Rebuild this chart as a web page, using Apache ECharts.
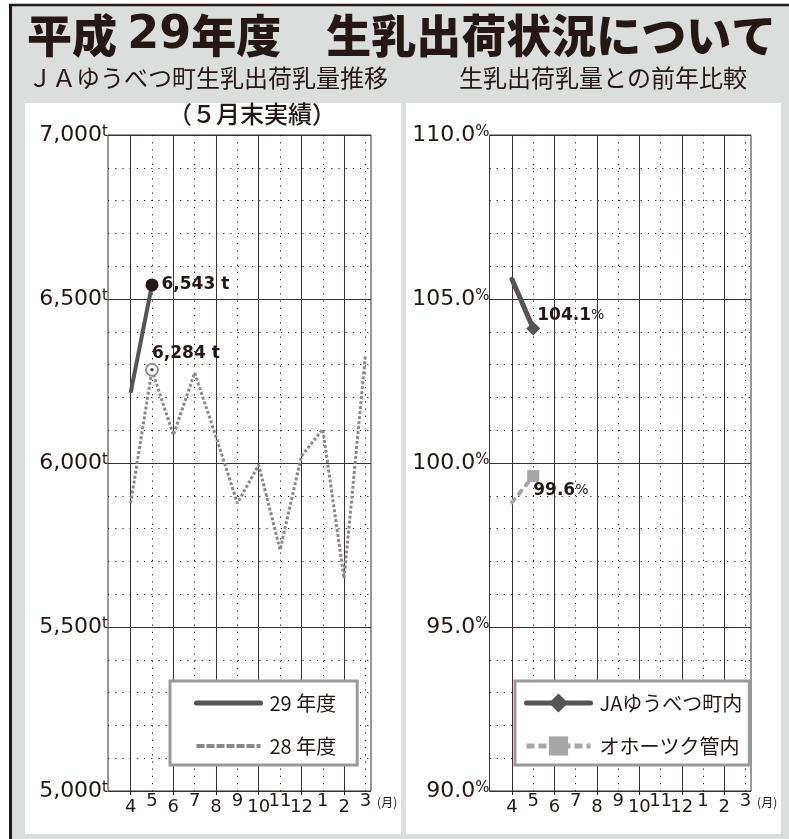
<!DOCTYPE html>
<html lang="ja">
<head>
<meta charset="UTF-8">
<title>平成29年度 生乳出荷状況について</title>
<script src="https://cdn.jsdelivr.net/npm/echarts@6/dist/echarts.min.js"></script>
<style>
  html, body { margin: 0; padding: 0; background: #fff; }
</style>
</head>
<body>
<div id="main" style="width:789px;height:839px"></div>
<script>
// 月（4月～3月）
var months = ['4', '5', '6', '7', '8', '9', '10', '11', '12', '1', '2', '3'];
// 生乳出荷乳量 (t)
var fy29 = [6214, 6543];
var fy28 = [5877, 6284, 6085, 6275, 6080, 5877, 5994, 5735, 6021, 6103, 5648, 6329];
// 前年比 (%)
var jaRatio = [105.6, 104.1];
var okhRatio = [98.8, 99.6];
// 目盛り [min, max, interval]
var tonAxis = [5000, 7000, 500];
var pctAxis = [90, 110, 5];

var INK = '#231815';
var NUM = 'DejaVu Sans';
var JP = '"Noto Sans CJK JP"';

var chart = echarts.init(document.getElementById('main'));

// x軸は 4月=0 … 3月=11 の値軸
var MINX = -1.06, MAXX = 11.26, TOP = 135, H = 656;
var LL = 108, LW = 263, RL = 489.5, RW = 261.5;

function sub(left, width, a, b) {
  var k = width / (MAXX - MINX);
  return { left: left + (a - MINX) * k, width: (b - a) * k, top: TOP, height: H };
}

var dotted = { color: INK, width: 1, type: [1.2, 6] };
var solid = { color: '#3a3030', width: 1 };

function mainX(g) {
  return { gridIndex: g, type: 'value', min: MINX, max: MAXX, show: false };
}
function evenX(g) {
  return {
    gridIndex: g, type: 'value', min: 0, max: 10, interval: 2,
    axisLine: { show: false },
    axisTick: { show: true, length: 4, lineStyle: { color: INK } },
    splitLine: { show: true, lineStyle: solid },
    axisLabel: { margin: 7, fontSize: 18, color: INK, fontFamily: NUM,
      formatter: function (v) { return months[v]; } }
  };
}
function oddX(g) {
  return {
    gridIndex: g, type: 'value', min: 1, max: 11, interval: 2,
    axisLine: { show: false }, axisTick: { show: false },
    splitLine: { show: true, lineStyle: dotted },
    axisLabel: { margin: 1, fontSize: 18, color: INK, fontFamily: NUM,
      formatter: function (v) { return months[v]; } },
    name: '(月)', nameLocation: 'end', nameGap: 8,
    nameTextStyle: { fontSize: 12, color: INK, fontFamily: JP, verticalAlign: 'top', padding: [5, 0, 0, 0] }
  };
}
function hiddenY(g) {
  return { gridIndex: g, type: 'value', min: 0, max: 1, show: false };
}
function mainY(g, ax, fmt) {
  return {
    gridIndex: g, type: 'value', min: ax[0], max: ax[1], interval: ax[2],
    axisLine: { show: false }, axisTick: { show: false },
    splitLine: { show: true, lineStyle: solid },
    minorTick: { show: false, splitNumber: 5 },
    minorSplitLine: { show: true, lineStyle: dotted },
    axisLabel: {
      margin: 0, color: INK, formatter: fmt,
      rich: {
        n: { fontSize: 22, fontFamily: NUM, color: INK },
        u: { fontSize: 15, fontFamily: NUM, color: INK, verticalAlign: 'top', padding: [1, 0, 0, 0] }
      }
    }
  };
}

var gridL = { left: LL, width: LW, top: TOP, height: H, show: true, borderColor: '#3a3030', borderWidth: 1 };
var gridR = { left: RL, width: RW, top: TOP, height: H, show: true, borderColor: '#3a3030', borderWidth: 1 };

function pointLabel(text, pos, dist, off) {
  return {
    show: true, position: pos, distance: dist, offset: off, align: 'left',
    formatter: text,
    rich: {
      a: { fontSize: 17, fontWeight: 'bold', fontFamily: NUM, color: INK },
      b: { fontSize: 14, fontFamily: NUM, color: INK }
    }
  };
}

var last29 = fy29.length - 1;
var s29 = fy29.map(function (v, i) {
  if (i === last29) {
    return { value: [i, v], symbol: 'circle', symbolSize: 13,
      label: pointLabel('{a|' + echarts.format.addCommas(v) + ' t}', 'right', 3, [0, 0]) };
  }
  return { value: [i, v], symbol: 'none' };
});
var s28 = fy28.map(function (v, i) {
  if (i === last29) {
    return { value: [i, v], symbol: 'emptyCircle', symbolSize: 12,
      itemStyle: { color: '#8e8e8e', borderWidth: 1 },
      label: pointLabel('{a|' + echarts.format.addCommas(v) + ' t}', 'top', 1, [0, 0]) };
  }
  return { value: [i, v], symbol: 'none' };
});
var sJa = jaRatio.map(function (v, i) {
  if (i === jaRatio.length - 1) {
    return { value: [i, v], symbol: 'diamond', symbolSize: 14,
      label: pointLabel('{a|' + v.toFixed(1) + '}{b|%}', 'right', -3, [0, -13]) };
  }
  return { value: [i, v], symbol: 'none' };
});
var sOk = okhRatio.map(function (v, i) {
  if (i === okhRatio.length - 1) {
    return { value: [i, v], symbol: 'rect', symbolSize: 12,
      label: pointLabel('{a|' + v.toFixed(1) + '}{b|%}', 'right', -6, [0, 14]) };
  }
  return { value: [i, v], symbol: 'none' };
});

var option = {
  animation: false,
  textStyle: { fontFamily: JP },
  graphic: [
    { type: 'rect', z: -10, shape: { x: 10, y: 5, width: 779, height: 834 }, style: { fill: '#dcdddd' } },
    { type: 'line', z: -9, shape: { x1: 9, y1: 5, x2: 789, y2: 5 }, style: { stroke: INK, lineWidth: 2.5 } },
    { type: 'line', z: -9, shape: { x1: 10.5, y1: 4, x2: 10.5, y2: 839 }, style: { stroke: INK, lineWidth: 3 } },
    { type: 'rect', z: -9, shape: { x: 25, y: 103, width: 376, height: 731 }, style: { fill: '#fff' } },
    { type: 'rect', z: -9, shape: { x: 406, y: 103, width: 375, height: 731 }, style: { fill: '#fff' } }
  ],
  title: [
    { text: '平成 {d|29}年度　生乳出荷状況について', left: 27, top: 13, padding: 0,
      textStyle: { fontSize: 45, fontWeight: 900, fontFamily: JP, color: INK,
        rich: { d: { fontSize: 46, fontWeight: 'bold', fontFamily: NUM, color: INK } } } },
    { text: 'ＪＡゆうべつ町生乳出荷乳量推移', left: 28, top: 66, padding: 0,
      textStyle: { fontSize: 24, fontWeight: 'normal', fontFamily: JP, color: INK } },
    { text: '生乳出荷乳量との前年比較', left: 459, top: 66, padding: 0,
      textStyle: { fontSize: 24, fontWeight: 'normal', fontFamily: JP, color: INK } },
    { text: '（５月末実績）', left: 168, top: 102, padding: 0,
      textStyle: { fontSize: 24, fontWeight: 500, fontFamily: JP, color: INK } }
  ],
  legend: [
    {
      data: [
        { name: '29 年度', lineStyle: { width: 5, cap: 'round' } },
        { name: '28 年度', lineStyle: { width: 4, type: [8, 2] } }
      ],
      orient: 'vertical', left: 170, top: 681,
      itemWidth: 64, itemHeight: 20, itemGap: 23, padding: [12, 21, 9, 24],
      backgroundColor: '#fff', borderColor: '#9a9a9a', borderWidth: 3, borderRadius: 0,
      itemStyle: { opacity: 0 }, selectedMode: false,
      textStyle: { fontSize: 20, lineHeight: 20, color: INK, fontFamily: JP, padding: [0, 0, 0, 4] }
    },
    {
      data: [
        { name: 'JAゆうべつ町内', lineStyle: { width: 5, cap: 'round' } },
        { name: 'オホーツク管内', lineStyle: { width: 5, type: [8, 4], cap: 'butt' } }
      ],
      orient: 'vertical', left: 515, top: 681,
      itemWidth: 64, itemHeight: 24, itemGap: 19, padding: [10, 7, 7, 9],
      backgroundColor: '#fff', borderColor: '#9a9a9a', borderWidth: 3, borderRadius: 0,
      selectedMode: false,
      textStyle: { fontSize: 20, lineHeight: 24, color: INK, fontFamily: JP, padding: [0, 0, 0, 4] }
    }
  ],
  grid: [
    gridL, sub(LL, LW, 0, 10), sub(LL, LW, 1, 11),
    gridR, sub(RL, RW, 0, 10), sub(RL, RW, 1, 11)
  ],
  xAxis: [mainX(0), evenX(1), oddX(2), mainX(3), evenX(4), oddX(5)],
  yAxis: [
    mainY(0, tonAxis, function (v) { return '{n|' + echarts.format.addCommas(v) + '}{u|t}'; }),
    hiddenY(1), hiddenY(2),
    mainY(3, pctAxis, function (v) { return '{n|' + v.toFixed(1) + '}{u|%}'; }),
    hiddenY(4), hiddenY(5)
  ],
  series: [
    {
      name: '29 年度', type: 'line', xAxisIndex: 0, yAxisIndex: 0, z: 4,
      data: s29, symbol: 'circle',
      itemStyle: { color: INK },
      lineStyle: { color: '#555555', width: 4 }
    },
    {
      name: '28 年度', type: 'line', xAxisIndex: 0, yAxisIndex: 0, z: 3,
      data: s28, symbol: 'circle',
      itemStyle: { color: '#8a8a8a' },
      lineStyle: { color: '#8a8a8a', width: 3, type: [3, 2] }
    },
    {
      name: 'dot', type: 'scatter', xAxisIndex: 0, yAxisIndex: 0, z: 5, silent: true,
      data: [[1, fy28[1]]], symbolSize: 3.5, itemStyle: { color: INK }
    },
    {
      name: 'JAゆうべつ町内', type: 'line', xAxisIndex: 3, yAxisIndex: 3, z: 4,
      data: sJa, symbol: 'diamond',
      itemStyle: { color: '#555555' },
      lineStyle: { color: '#555555', width: 5, cap: 'round' }
    },
    {
      name: 'オホーツク管内', type: 'line', xAxisIndex: 3, yAxisIndex: 3, z: 3,
      data: sOk, symbol: 'rect',
      itemStyle: { color: '#a7a7a7' },
      lineStyle: { color: '#a7a7a7', width: 4, type: [4, 7], cap: 'round' }
    }
  ]
};
chart.setOption(option);
</script>
</body>
</html>
